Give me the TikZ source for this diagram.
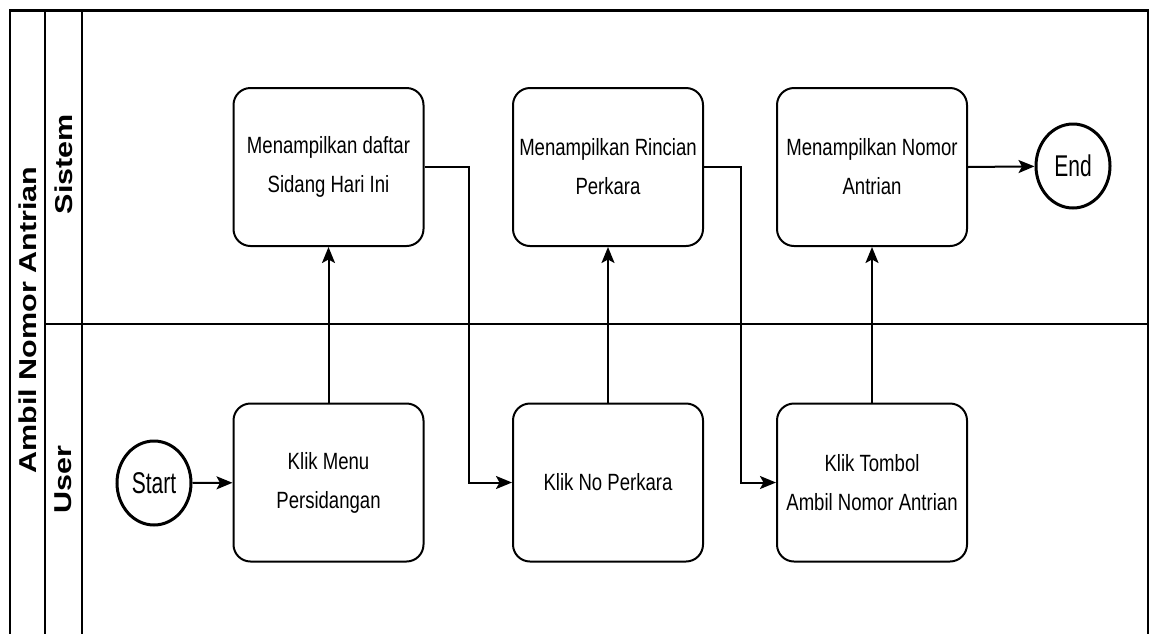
\documentclass[tikz,border=0pt]{standalone}
\usepackage{fontspec}
\usepackage{graphicx}
\setmainfont{Liberation Sans}
\newfontfamily\boxfont[FakeStretch=0.79]{Liberation Sans}
\newfontfamily\circfont[FakeStretch=0.7]{Liberation Sans}
\usetikzlibrary{arrows.meta,shapes.geometric}
\tikzset{
  frame/.style={line width=2pt, black},
  procbox/.style={draw, line width=2pt, rounded corners=17pt, minimum width=190pt, minimum height=158pt, inner sep=0pt, align=center, font=\boxfont\fontsize{23.5}{39}\selectfont},
  termnode/.style={draw, ellipse, line width=3pt, minimum width=74pt, minimum height=84pt, inner sep=0pt, font=\circfont\fontsize{30}{36}\selectfont},
  arr/.style={line width=2pt, -{Stealth[length=16pt,width=13pt,inset=3.5pt]}},
  lanelabel/.style={rotate=90, inner sep=0pt, font=\bfseries\fontsize{30.5}{36}\selectfont}
}
\begin{document}
\begin{tikzpicture}[x=1pt,y=-1pt]
\useasboundingbox (0,0) rectangle (1154,633);
% frame
\draw[frame] (10,640) -- (10,10) -- (1148,10) -- (1148,640);
\draw[line width=3pt] (10,10) -- (1148,10);
\draw[frame] (45,10) -- (45,640);
\draw[frame] (82,10) -- (82,640);
\draw[frame] (45,324) -- (1148,324);
% lane labels
\node[lanelabel] (pool) at (28,320) {\scalebox{1}[0.8]{Ambil Nomor Antrian}};
\node[lanelabel] (lsis) at (63.5,164) {\scalebox{1}[0.8]{Sistem}};
\node[lanelabel] (lusr) at (63.5,480) {\scalebox{1}[0.8]{User}};
% nodes
\node[procbox] (b1) at (328.5,167) {Menampilkan daftar\\Sidang Hari Ini};
\node[procbox] (b2) at (608,167) {Menampilkan Rincian\\Perkara};
\node[procbox] (b3) at (872,167) {Menampilkan Nomor\\Antrian};
\node[procbox] (u1) at (328.5,482.5) {Klik Menu\\Persidangan};
\node[procbox] (u2) at (608,482.5) {Klik No Perkara};
\node[procbox] (u3) at (872,482.5) {Klik Tombol\\Ambil Nomor Antrian};
\node[termnode] (start) at (154,483) {Start};
\node[termnode] (end) at (1073,166) {End};
\coordinate (j1) at (469,0);
\coordinate (j2) at (741,0);
% connectors
\draw[arr] (start) -- (u1);
\draw[arr] (u1.north) -- (b1.south);
\draw[arr] (b1.east) -- (b1.east -| j1) |- (u2.west);
\draw[arr] (u2.north) -- (b2.south);
\draw[arr] (b2.east) -- (b2.east -| j2) |- (u3.west);
\draw[arr] (u3.north) -- (b3.south);
\draw[arr] (b3.east) -- (end);
\end{tikzpicture}
\end{document}
